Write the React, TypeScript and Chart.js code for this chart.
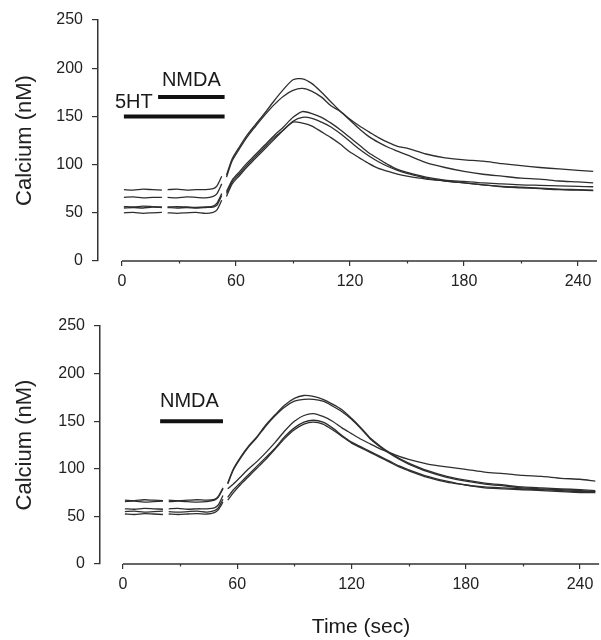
import React, { useEffect, useRef } from "react";
import { Chart, registerables } from "chart.js";

Chart.register(...registerables);

const FONT = "'Liberation Sans', Arial, Helvetica, sans-serif";

// Sample times (sec); 22 and 54 are the gaps in the recordings
const TIMES = [
  1, 6, 11, 16, 21, 22, 24, 29, 34, 39, 44, 48, 50, 52.5, 54,
  55, 58, 62, 66, 70, 75, 80, 85, 90, 95, 100, 105, 110, 115, 120,
  125, 130, 135, 140, 145, 150, 160, 170, 180, 190, 200, 210, 220, 230, 240, 248,
];

// ---- Top panel (5HT + NMDA) ----
const TOP_A = [
  74, 73.5, 74.5, 74, 73.5, null, 74, 74.5, 73.5, 74, 74, 75, 78, 88, null,
  89, 106, 119, 131, 141, 153, 166, 178, 188, 189, 184, 175, 165, 155, 146,
  137, 129, 123, 118, 114, 110, 102, 97, 93, 90, 88, 86, 85, 83, 82, 81,
];
const TOP_B = [
  66, 66.5, 65.5, 66, 66, null, 66, 65.5, 66.5, 66, 65.5, 67, 70, 80, null,
  87, 104, 117, 129, 139, 151, 162, 171, 177, 179, 176, 170, 161, 155, 147,
  140, 134, 128, 123, 119, 117, 111, 107, 105, 103.5, 101, 99, 97, 95.5, 94, 93,
];
const TOP_C = [
  56.5, 56, 57, 56.5, 56, null, 56, 56.5, 56, 55.5, 56, 57, 60, 70, null,
  72, 84, 93, 102, 110, 120, 130, 139, 149, 155, 153, 149, 143, 136, 128,
  120, 112, 106, 100, 95, 92, 87, 84, 82.5, 81, 80, 79, 78.5, 78, 77.5, 77,
];
const TOP_D = [
  55, 55.5, 55, 56, 55.5, null, 55.5, 55, 55.5, 55, 55.5, 56, 58, 68, null,
  70, 82, 91, 100, 108, 118, 128, 136, 145, 149, 148, 144, 139, 132, 124,
  116, 109, 103, 98, 94, 91, 86, 83, 81, 79, 77.5, 76.5, 75.5, 74.5, 74, 73.5,
];
const TOP_E = [
  50, 50.5, 49.5, 50, 50.5, null, 50, 49.5, 50, 50.5, 49.5, 50.5, 53, 63, null,
  67, 80, 89, 98, 106, 116, 126, 136, 144, 143, 140, 134, 128, 121, 113,
  107, 101, 96, 93, 90, 88, 85, 83, 81, 79, 77, 76, 75, 74, 73.5, 73,
];

// ---- Bottom panel (NMDA only) ----
const BOT_F = [
  67, 66.5, 67.5, 67, 66.5, null, 67, 66.5, 67, 67.5, 67, 68, 71, 80, null,
  85, 100, 113, 124, 133, 146, 157, 167, 174, 177, 176, 173, 168, 162, 153,
  143, 132, 124, 117, 111, 106, 98, 92, 88, 85, 83, 81, 80, 79, 78, 77,
];
const BOT_G = [
  65.5, 66, 65, 65.5, 66, null, 65.5, 66, 65.5, 65, 65.5, 67, 70, 79, null,
  84, 99, 112, 123, 132, 145, 156, 165, 171, 173, 173, 171, 166, 160, 152,
  142, 131, 123, 116, 110, 105, 97, 91, 87, 84, 82, 80, 79, 78, 77, 76,
];
const BOT_H = [
  58, 57.5, 58.5, 58, 57.5, null, 58, 58.5, 57.5, 58, 58, 59, 62, 72, null,
  79, 84, 92, 100, 107, 117, 128, 140, 150, 156, 158, 155, 150, 143, 137,
  131, 126, 121, 117, 113, 110, 105, 102, 99.5, 96.5, 95, 93, 92, 90, 89, 87,
];
const BOT_I = [
  55, 55.5, 54.5, 55, 55.5, null, 55, 54.5, 55, 55.5, 54.5, 56, 59, 68, null,
  70, 78, 86, 94, 102, 112, 122, 134, 143, 149, 151, 149, 143, 135, 128,
  123, 118, 113, 108, 103, 99, 92, 87, 83, 81, 80, 79, 78, 77, 76, 76,
];
const BOT_J = [
  52.5, 52, 53, 52.5, 52, null, 52.5, 52, 52.5, 53, 52.5, 54, 57, 65, null,
  67, 75, 84, 92, 100, 110, 121, 132, 141, 147, 149, 147, 141, 134, 127,
  122, 117, 112, 107, 102, 98, 91, 86, 83, 80, 79, 78, 77, 76, 75, 75,
];

// Drug application bars: [start, end] times and level (nM)
const TOP_5HT_BAR_X = [1, 54];
const TOP_5HT_BAR_Y = [150, 150];
const TOP_NMDA_BAR_X = [19, 54];
const TOP_NMDA_BAR_Y = [170, 170];
const BOT_NMDA_BAR_X = [19.5, 52.5];
const BOT_NMDA_BAR_Y = [150, 150];

const X_TICKS = [0, 30, 60, 90, 120, 150, 180, 210, 240];
const X_LABELED = [0, 60, 120, 180, 240];
const Y_TICKS = [0, 50, 100, 150, 200, 250];
const X_AXIS_END = 250;

const Y_TITLE = "Calcium (nM)";
const X_TITLE = "Time (sec)";

const toPts = (xs: number[], ys: (number | null)[]) =>
  xs.map((x, i) => ({ x, y: ys[i] }));

const isMajor = (v: number) => X_LABELED.includes(v);

const customAxis = {
  id: "customAxis",
  afterDraw(chart: any, _args: any, opts: any) {
    const { ctx } = chart;
    const x = chart.scales.x;
    const y = chart.scales.y;
    ctx.save();
    // detached x-axis line from 0 to end
    ctx.strokeStyle = "#333";
    ctx.lineWidth = 1.5;
    const yb = y.getPixelForValue(0);
    ctx.beginPath();
    ctx.moveTo(x.getPixelForValue(0), yb);
    ctx.lineTo(x.getPixelForValue(X_AXIS_END), yb);
    ctx.stroke();
    // short minor ticks
    ctx.lineWidth = 1.2;
    for (const v of X_TICKS) {
      if (isMajor(v)) continue;
      const px = Math.round(x.getPixelForValue(v)) + 0.5;
      ctx.beginPath();
      ctx.moveTo(px, yb);
      ctx.lineTo(px, yb + 2.5);
      ctx.stroke();
    }
    // annotation texts
    ctx.fillStyle = "#1a1a1a";
    ctx.font = `20px ${FONT}`;
    ctx.textAlign = "left";
    ctx.textBaseline = "alphabetic";
    for (const a of opts.annotations || []) {
      ctx.fillText(a.text, x.getPixelForValue(a.x), y.getPixelForValue(a.y));
    }
    if (opts.xTitle) {
      ctx.font = `21px ${FONT}`;
      ctx.textAlign = "center";
      ctx.fillText(
        opts.xTitle,
        x.getPixelForValue(X_AXIS_END / 2),
        chart.height - opts.xTitleBottom
      );
    }
    ctx.restore();
  },
};

type PanelProps = {
  traces: (number | null)[][];
  bars: { xs: number[]; ys: number[] }[];
  annotations: { text: string; x: number; y: number }[];
  height: number;
  yAxisWidth: number;
  xAxisHeight: number;
  topPad: number;
  xMin: number;
  xMax: number;
  xTitle?: string;
  top: number;
};

function Panel(p: PanelProps) {
  const ref = useRef<HTMLCanvasElement | null>(null);
  useEffect(() => {
    if (!ref.current) return;
    const datasets: any[] = [];
    p.traces.forEach((t) =>
      datasets.push({
        data: toPts(TIMES, t),
        borderColor: "#2e2e2e",
        borderWidth: 1.3,
        pointRadius: 0,
        tension: 0.25,
        spanGaps: false,
      })
    );
    p.bars.forEach((b) =>
      datasets.push({
        data: toPts(b.xs, b.ys),
        borderColor: "#111",
        borderWidth: 4,
        borderCapStyle: "butt",
        pointRadius: 0,
      })
    );
    const chart = new Chart(ref.current, {
      type: "line",
      data: { datasets },
      plugins: [customAxis],
      options: {
        animation: false,
        responsive: false,
        layout: { padding: { top: p.topPad, left: 0, right: 0, bottom: 0 } },
        plugins: {
          legend: { display: false },
          tooltip: { enabled: false },
          customAxis: {
            annotations: p.annotations,
            xTitle: p.xTitle,
            xTitleBottom: 7,
          },
        } as any,
        scales: {
          x: {
            type: "linear",
            min: p.xMin,
            max: p.xMax,
            afterBuildTicks: (s: any) => {
              s.ticks = X_TICKS.map((v) => ({ value: v }));
            },
            afterFit: (s: any) => {
              s.height = p.xAxisHeight;
            },
            ticks: {
              autoSkip: false,
              maxRotation: 0,
              padding: 6,
              color: "#222",
              font: { size: 16, family: FONT },
              callback: (v: any) => (isMajor(Number(v)) ? String(v) : ""),
            },
            grid: {
              drawOnChartArea: false,
              drawTicks: true,
              tickLength: 5,
              color: "#333",
              tickColor: (c: any) =>
                c.tick && isMajor(c.tick.value) ? "#333" : "rgba(0,0,0,0)",
              lineWidth: 1.2,
            },
            border: { display: false },
          },
          y: {
            type: "linear",
            min: 0,
            max: 250,
            afterBuildTicks: (s: any) => {
              s.ticks = Y_TICKS.map((v) => ({ value: v }));
            },
            afterFit: (s: any) => {
              s.width = p.yAxisWidth;
            },
            ticks: {
              padding: 9,
              color: "#222",
              font: { size: 16, family: FONT },
            },
            grid: {
              drawOnChartArea: false,
              drawTicks: true,
              tickLength: 6,
              color: "#333",
              lineWidth: 1.2,
            },
            border: { display: true, color: "#333", width: 1.5 },
            title: {
              display: true,
              text: Y_TITLE,
              color: "#222",
              font: { size: 22, family: FONT },
              padding: { top: 12, bottom: 0 },
            },
          },
        },
      } as any,
    });
    return () => chart.destroy();
  }, []);
  return (
    <canvas
      ref={ref}
      width={601}
      height={p.height}
      style={{ position: "absolute", left: 0, top: p.top, display: "block" }}
    />
  );
}

export default function App() {
  return (
    <div
      style={{
        position: "absolute",
        left: 0,
        top: 0,
        width: 601,
        height: 640,
        background: "#fff",
      }}
    >
      <Panel
        traces={[TOP_A, TOP_B, TOP_C, TOP_D, TOP_E]}
        bars={[
          { xs: TOP_5HT_BAR_X, ys: TOP_5HT_BAR_Y },
          { xs: TOP_NMDA_BAR_X, ys: TOP_NMDA_BAR_Y },
        ]}
        annotations={[
          { text: "NMDA", x: 21, y: 181.5 },
          { text: "5HT", x: -3.7, y: 158.5 },
        ]}
        height={300}
        yAxisWidth={98}
        xAxisHeight={39}
        topPad={20}
        xMin={-12.63}
        xMax={252.1}
        top={0}
      />
      <Panel
        traces={[BOT_F, BOT_G, BOT_H, BOT_I, BOT_J]}
        bars={[{ xs: BOT_NMDA_BAR_X, ys: BOT_NMDA_BAR_Y }]}
        annotations={[{ text: "NMDA", x: 19.4, y: 165 }]}
        height={335}
        yAxisWidth={100}
        xAxisHeight={76}
        topPad={21}
        xMin={-12.07}
        xMax={251}
        xTitle={X_TITLE}
        top={305}
      />
    </div>
  );
}
